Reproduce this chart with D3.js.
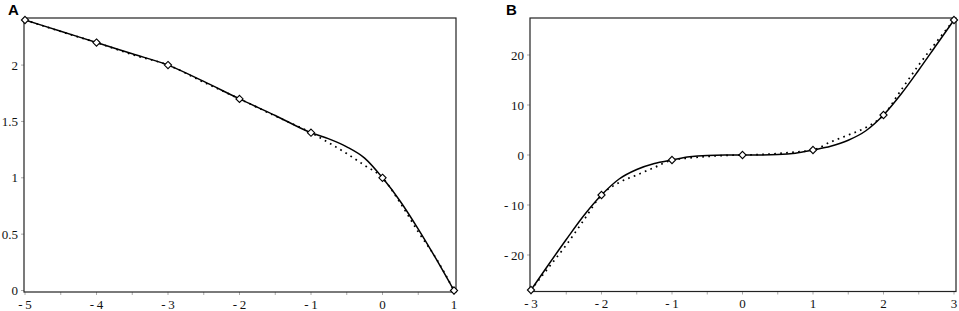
<!DOCTYPE html>
<html>
<head>
<meta charset="utf-8">
<script src="https://cdn.jsdelivr.net/npm/d3@7"></script>
<style>
  html, body { margin: 0; padding: 0; background: #fff; }
</style>
</head>
<body>
<div id="chart"></div>
<script>
// Panel A - nodes and the two curves
const aNodeX = [-5, -4, -3, -2, -1, 0, 1];
const aNodeY = [2.4, 2.2, 2.0, 1.7, 1.4, 1.0, 0];
const aCurveX = [-5, -4.5, -4, -3.5, -3, -2.5, -2, -1.5, -1, -0.75, -0.5, -0.25, 0, 0.25, 0.5, 0.75, 1];
const aSolidY = [2.4, 2.3, 2.2, 2.1, 2.0, 1.855, 1.7, 1.553, 1.4, 1.345, 1.275, 1.175, 1.0, 0.79, 0.545, 0.28, 0];
const aDottedY = [2.4, 2.298, 2.2, 2.093, 2.0, 1.848, 1.7, 1.548, 1.4, 1.31, 1.215, 1.11, 1.0, 0.775, 0.52, 0.285, 0];
const aXTicks = [-5, -4, -3, -2, -1, 0, 1];
const aYTicks = [0, 0.5, 1, 1.5, 2];

// Panel B
const bNodeX = [-3, -2, -1, 0, 1, 2, 3];
const bNodeY = [-27, -8, -1, 0, 1, 8, 27];
const bCurveX = [-3, -2.75, -2.5, -2.25, -2, -1.75, -1.5, -1.25, -1, -0.75, -0.5, -0.25, 0,
                 0.25, 0.5, 0.75, 1, 1.25, 1.5, 1.75, 2, 2.25, 2.5, 2.75, 3];
const bSolidY = [-27, -21.9, -16.9, -12.1, -8, -4.8, -2.9, -1.7, -1, -0.35, -0.08, -0.01, 0,
                 0.01, 0.08, 0.35, 1, 1.75, 2.95, 4.85, 8, 12.2, 17.0, 22.0, 27];
const bDottedY = [-27, -22.5, -18.0, -13.0, -8, -5.5, -4.0, -2.5, -1, -0.6, -0.3, -0.1, 0,
                  0.1, 0.3, 0.6, 1, 2.6, 4.0, 5.5, 8, 13.0, 18.0, 22.6, 27];
const bXTicks = [-3, -2, -1, 0, 1, 2, 3];
const bYTicks = [-20, -10, 0, 10, 20];

const width = 959, height = 311;
const serif = "'Liberation Serif', 'DejaVu Serif', 'Times New Roman', serif";

const svg = d3.select("#chart")
    .append("svg")
    .attr("width", width)
    .attr("height", height);

// square diamond marker
const diamond = {
    draw(ctx, size) {
        const r = Math.sqrt(size / 2);
        ctx.moveTo(0, -r);
        ctx.lineTo(r, 0);
        ctx.lineTo(0, r);
        ctx.lineTo(-r, 0);
        ctx.closePath();
    }
};

const fmt = v => {
    const s = String(Math.abs(v));
    return v < 0 ? "-\u2009" + s : s;
};

function drawPanel(opt) {
    const x = d3.scaleLinear().domain(opt.xDomain).range(opt.xRange);
    const y = d3.scaleLinear().domain(opt.yDomain).range(opt.yRange);
    const g = svg.append("g");

    const left = opt.xRange[0] - 1, right = opt.xRange[1] + 2;
    const top = opt.yRange[1] - 2, bottom = opt.yRange[0] + 1.5;

    // minor / major ticks on x axis (outside, gray)
    const xMinor = d3.range(opt.xDomain[0], opt.xDomain[1] + 0.001, 0.5);
    g.selectAll(".xtick")
        .data(xMinor)
        .enter().append("line")
        .attr("x1", d => x(d)).attr("x2", d => x(d))
        .attr("y1", bottom).attr("y2", bottom + 3)
        .attr("stroke", "#aaa").attr("stroke-width", 1);

    g.selectAll(".ytick")
        .data(opt.yTicks)
        .enter().append("line")
        .attr("x1", left - 3).attr("x2", left)
        .attr("y1", d => y(d)).attr("y2", d => y(d))
        .attr("stroke", "#aaa").attr("stroke-width", 1);

    // frame
    g.append("rect")
        .attr("x", left).attr("y", top)
        .attr("width", right - left).attr("height", bottom - top)
        .attr("fill", "none")
        .attr("stroke", "#222")
        .attr("stroke-width", 1.2);

    // tick labels
    g.selectAll(".xlab")
        .data(opt.xTicks)
        .enter().append("text")
        .attr("x", d => x(d))
        .attr("y", bottom + 16.5)
        .attr("text-anchor", "middle")
        .style("font-family", serif)
        .style("font-size", "13px")
        .style("fill", "#111")
        .text(fmt);

    g.selectAll(".ylab")
        .data(opt.yTicks)
        .enter().append("text")
        .attr("x", left - 6)
        .attr("y", d => y(d) + 4.5)
        .attr("text-anchor", "end")
        .style("font-family", serif)
        .style("font-size", "13px")
        .style("fill", "#111")
        .text(fmt);

    // curves
    const solidPts = opt.curveX.map((d, i) => [d, opt.solidY[i]]);
    const dottedPts = opt.curveX.map((d, i) => [d, opt.dottedY[i]]);
    const line = d3.line()
        .x(d => x(d[0]))
        .y(d => y(d[1]))
        .curve(d3.curveMonotoneX);

    g.append("path")
        .attr("d", line(dottedPts))
        .attr("fill", "none")
        .attr("stroke", "#000")
        .attr("stroke-width", 1.7)
        .attr("stroke-dasharray", "1.7,4.3");

    g.append("path")
        .attr("d", line(solidPts))
        .attr("fill", "none")
        .attr("stroke", "#000")
        .attr("stroke-width", 1.5);

    // node markers
    g.selectAll(".node")
        .data(opt.nodeX.map((d, i) => [d, opt.nodeY[i]]))
        .enter().append("path")
        .attr("d", d3.symbol().type(diamond).size(26))
        .attr("transform", d => `translate(${x(d[0])},${y(d[1])})`)
        .attr("fill", "#fff")
        .attr("stroke", "#000")
        .attr("stroke-width", 1.1);

    // panel letter
    svg.append("text")
        .attr("x", opt.letterX)
        .attr("y", 15)
        .style("font-family", "'Liberation Sans', Arial, sans-serif")
        .style("font-size", "15px")
        .style("font-weight", "bold")
        .text(opt.letter);
}

drawPanel({
    letter: "A", letterX: 8,
    xDomain: [-5, 1], xRange: [25, 454],
    yDomain: [0, 2.4], yRange: [290.5, 20],
    xTicks: aXTicks, yTicks: aYTicks,
    nodeX: aNodeX, nodeY: aNodeY,
    curveX: aCurveX, solidY: aSolidY, dottedY: aDottedY
});

drawPanel({
    letter: "B", letterX: 506,
    xDomain: [-3, 3], xRange: [531, 954],
    yDomain: [-27, 27], yRange: [290, 20],
    xTicks: bXTicks, yTicks: bYTicks,
    nodeX: bNodeX, nodeY: bNodeY,
    curveX: bCurveX, solidY: bSolidY, dottedY: bDottedY
});
</script>
</body>
</html>
